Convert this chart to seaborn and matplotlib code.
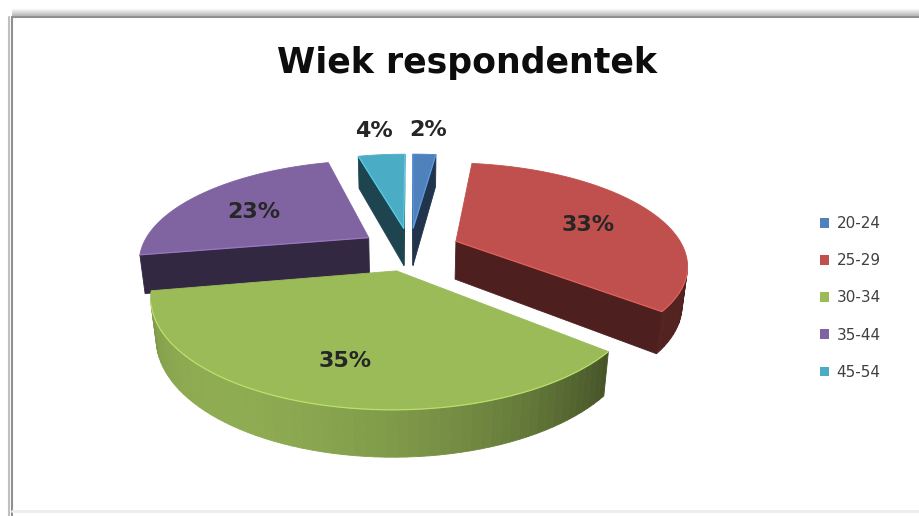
import numpy as np
import matplotlib
matplotlib.use("Agg")
import matplotlib.pyplot as plt
import seaborn as sns
from matplotlib.patches import Polygon, Patch
from matplotlib.colors import to_rgb

sns.set_theme(style="white")
plt.rcParams["font.family"] = ["DejaVu Sans"]

# Survey data: age groups of the respondents (percent)
age_groups = ["20-24", "25-29", "30-34", "35-44", "45-54"]
shares = [2, 33, 35, 23, 4]
slice_colors = sns.color_palette(["#4F81BD", "#C0504D", "#9BBB59", "#8064A2", "#4BACC6"])
chart_title = "Wiek respondentek"

# 3D view of the exploded pie
CX, CY = 410, 249          # projected centre of the pie
SCALE = 228                # radius in pixels at the centre depth
TILT = np.radians(25.5)    # elevation of the viewer
DIST = 4.21                # viewer distance (in pie radii)
EXPLODE = 0.22
THICK = 0.19
LIGHT = np.array([-0.6, -0.8, 0.0])

cos_t, sin_t = np.cos(TILT), np.sin(TILT)
camera = np.array([0.0, -DIST * cos_t, DIST * sin_t])


def project(x, y, z):
    d = DIST + y * cos_t - z * sin_t
    v = y * sin_t + z * cos_t
    return CX + SCALE * DIST * x / d, CY - SCALE * DIST * v / d


def shade(color, f):
    return tuple(np.clip(np.array(to_rgb(color)) * f, 0, 1))


def draw_poly(ax, pts3d, color, z):
    xy = [project(*p) for p in pts3d]
    ax.add_patch(Polygon(xy, closed=True, facecolor=color, edgecolor=color,
                         linewidth=0.6, zorder=z, antialiased=True))


fig = plt.figure(figsize=(9.2, 5.16), dpi=100)
ax = fig.add_axes([0, 0, 1, 1])
ax.set_xlim(0, 920)
ax.set_ylim(516, 0)
ax.axis("off")

values = np.array(shares, dtype=float)
bounds = np.concatenate([[0.0], np.cumsum(values / values.sum())]) * 2 * np.pi

slices = []
for i, (val, col) in enumerate(zip(shares, slice_colors)):
    t1, t2 = bounds[i], bounds[i + 1]
    tm = 0.5 * (t1 + t2)
    ox, oy = EXPLODE * np.sin(tm), EXPLODE * np.cos(tm)
    slices.append((oy + 0.5 * np.cos(tm), i, t1, t2, tm, ox, oy, val, col))

# paint from the far side of the pie to the near side
slices.sort(key=lambda s: -s[0])
zbase = 2
for _, i, t1, t2, tm, ox, oy, val, col in slices:
    n = max(6, int(np.degrees(t2 - t1) / 2))
    ts = np.linspace(t1, t2, n)
    arc = [(ox + np.sin(t), oy + np.cos(t)) for t in ts]
    tip = (ox, oy)
    faces = []
    rims = []
    # curved outer wall
    for k in range(len(arc) - 1):
        a, b = arc[k], arc[k + 1]
        tc = 0.5 * (ts[k] + ts[k + 1])
        nrm = np.array([np.sin(tc), np.cos(tc), 0.0])
        p = np.array([(a[0] + b[0]) / 2, (a[1] + b[1]) / 2, -THICK / 2])
        if np.dot(nrm, camera - p) > 0:
            f = 0.42 + 0.5 * max(0.0, np.dot(nrm, LIGHT))
            faces.append(([(a[0], a[1], 0), (b[0], b[1], 0),
                           (b[0], b[1], -THICK), (a[0], a[1], -THICK)], shade(col, f)))
            rims.append((a, b))
    # flat radial walls
    for end, nrm in ((arc[0], np.array([-np.cos(t1), np.sin(t1), 0.0])),
                     (arc[-1], np.array([np.cos(t2), -np.sin(t2), 0.0]))):
        p = np.array([(end[0] + tip[0]) / 2, (end[1] + tip[1]) / 2, -THICK / 2])
        if np.dot(nrm, camera - p) > 0:
            faces.append(([(tip[0], tip[1], 0), (end[0], end[1], 0),
                           (end[0], end[1], -THICK), (tip[0], tip[1], -THICK)], shade(col, 0.4)))
            rims.append((tip, end))
    for pts, c in faces:
        draw_poly(ax, pts, c, zbase)
    top = [(tip[0], tip[1], 0)] + [(x, y, 0) for x, y in arc]
    draw_poly(ax, top, col, zbase + 1)
    # soft bevel highlight where the top meets the walls
    for a, b in rims:
        (x0, y0), (x1, y1) = project(a[0], a[1], 0), project(b[0], b[1], 0)
        ax.plot([x0, x1], [y0, y1], color=shade(col, 1.35), lw=0.9, alpha=0.6,
                zorder=zbase + 1.5, solid_capstyle="butt")
    zbase += 2

    # value label
    frac = val / values.sum()
    if frac > 0.1:
        lx, ly = project(ox + 0.68 * np.sin(tm), oy + 0.68 * np.cos(tm), -0.03)
    else:
        lx, ly = project(ox + 1.42 * np.sin(tm), oy + 1.42 * np.cos(tm), 0)
    ax.text(lx, ly, f"{val}%", ha="center", va="center", fontsize=16,
            fontweight="bold", color="#262626", zorder=50)

ax.text(467, 63, chart_title, ha="center", va="center", fontsize=25,
        fontweight="bold", color="#0d0d0d")

handles = [Patch(facecolor=c, edgecolor="none") for c in slice_colors]
ax.legend(handles, age_groups, loc="center left", bbox_to_anchor=(806 / 920, 1 - 298 / 516),
          frameon=False, fontsize=11, labelspacing=1.45, handlelength=0.6,
          handleheight=0.6, handletextpad=0.5, labelcolor="#404040")

# chart frame
for k, a in enumerate(np.linspace(0.05, 0.5, 8)):
    ax.plot([12, 920], [9 + k, 9 + k], color="#808080", alpha=a, lw=1, clip_on=False)
ax.plot([12, 920], [17, 17], color="#909090", lw=1.5)
ax.plot([12, 12], [17, 516], color="#909090", lw=1.5)
ax.plot([9, 9], [17, 516], color="#c0c0c0", lw=1.5)
ax.plot([12, 920], [511, 511], color="#ececec", lw=2)

fig.savefig("out.png", dpi=100)
